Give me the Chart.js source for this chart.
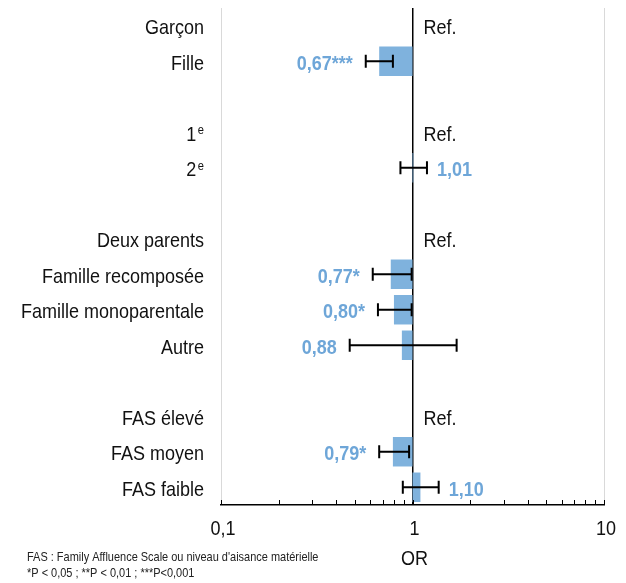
<!DOCTYPE html>
<html>
<head>
<meta charset="utf-8">
<script src="https://cdn.jsdelivr.net/npm/chart.js@4.4.1/dist/chart.umd.min.js"></script>
<style>
  html, body { margin: 0; padding: 0; background: #fff; }
  #wrap { width: 626px; height: 583px; position: relative; }
</style>
</head>
<body>
<div id="wrap"><canvas id="c" width="626" height="583"></canvas></div>
<script>
// Rows of the forest plot (blank rows separate the groups)
const categories   = ['Garçon', 'Fille', '', '1', '2', '', 'Deux parents', 'Famille recomposée', 'Famille monoparentale', 'Autre', '', 'FAS élevé', 'FAS moyen', 'FAS faible'];
const superscripts = ['', '', '', 'e', 'e', '', '', '', '', '', '', '', '', ''];
const isReference  = [true, false, false, true, false, false, true, false, false, false, false, true, false, false];

// Odds ratios with 95% confidence limits
const oddsRatio    = [null, 0.67, null, null, 1.01, null, null, 0.77, 0.80, 0.88, null, null, 0.79, 1.10];
const ciLow        = [null, 0.57, null, null, 0.865, null, null, 0.62, 0.66, 0.47, null, null, 0.67, 0.89];
const ciHigh       = [null, 0.79, null, null, 1.19, null, null, 0.99, 0.99, 1.70, null, null, 0.96, 1.37];
const significance = ['', '***', '', '', '', '', '', '*', '*', '', '', '', '*', ''];

// Log axis ticks
const xTickValues     = [0.1, 0.2, 0.3, 0.4, 0.5, 0.6, 0.7, 0.8, 0.9, 1, 2, 3, 4, 5, 6, 7, 8, 9, 10];
const majorTicks      = [0.1, 1, 10];
const majorTickLabels = ['0,1', '1', '10'];

const refLabel = 'Ref.';
const axisTitle = 'OR';
const footnotes = [
  "FAS : Family Affluence Scale ou niveau d'aisance matérielle",
  '*P < 0,05 ; **P < 0,01 ; ***P<0,001'
];

const FONT = "'Liberation Sans', Arial, sans-serif";
const SQUEEZE = 0.857;          // narrow set type
const BAR_COLOR = '#7fb2dd';
const VALUE_COLOR = '#6ea6d8';
const TEXT_COLOR = '#111111';

const fmt = v => v.toFixed(2).replace('.', ',');

// Bars run from OR = 1 to the estimate
const barData = oddsRatio.map(v => (v == null ? null : [1, v]));

// condensed text helper
function drawText(ctx, text, x, y, align, font, color) {
  ctx.save();
  ctx.font = font;
  ctx.fillStyle = color;
  ctx.textAlign = align;
  ctx.textBaseline = 'alphabetic';
  ctx.translate(x, y);
  ctx.scale(SQUEEZE, 1);
  ctx.fillText(text, 0, 0);
  ctx.restore();
}
function textWidth(ctx, text, font) {
  ctx.save();
  ctx.font = font;
  const w = ctx.measureText(text).width * SQUEEZE;
  ctx.restore();
  return w;
}

const forestPlugin = {
  id: 'forest',
  afterDraw(chart) {
    const ctx = chart.ctx;
    const xs = chart.scales.x;
    const ys = chart.scales.y;
    const area = chart.chartArea;
    const mainFont = '21px ' + FONT;
    const boldFont = 'bold 21px ' + FONT;
    const supFont = '13px ' + FONT;

    ctx.save();

    // inner tick marks on the log axis
    ctx.strokeStyle = '#000';
    ctx.lineWidth = 1;
    xTickValues.forEach(v => {
      const x = Math.round(xs.getPixelForValue(v)) + 0.5;
      ctx.beginPath();
      ctx.moveTo(x, area.bottom);
      ctx.lineTo(x, area.bottom - 5);
      ctx.stroke();
    });

    // tick labels and axis title
    majorTicks.forEach((v, k) => {
      drawText(ctx, majorTickLabels[k], xs.getPixelForValue(v) + 2, area.bottom + 30, 'center', mainFont, TEXT_COLOR);
    });
    drawText(ctx, axisTitle, xs.getPixelForValue(1) + 2, area.bottom + 60, 'center', mainFont, TEXT_COLOR);

    // category labels (right aligned, with superscript suffixes)
    const labelRight = area.left - 17;
    categories.forEach((label, i) => {
      if (!label) return;
      const base = ys.getPixelForValue(i) + 8.5;
      if (superscripts[i]) {
        const sw = textWidth(ctx, superscripts[i], supFont);
        drawText(ctx, superscripts[i], labelRight, base - 6.5, 'right', supFont, TEXT_COLOR);
        drawText(ctx, label, labelRight - sw - 1.5, base, 'right', mainFont, TEXT_COLOR);
      } else {
        drawText(ctx, label, labelRight, base, 'right', mainFont, TEXT_COLOR);
      }
    });

    // reference rows
    const x1 = xs.getPixelForValue(1);
    isReference.forEach((ref, i) => {
      if (!ref) return;
      drawText(ctx, refLabel, x1 + 11, ys.getPixelForValue(i) + 8.5, 'left', mainFont, TEXT_COLOR);
    });

    // confidence intervals
    ctx.strokeStyle = '#000';
    ctx.lineWidth = 2;
    oddsRatio.forEach((v, i) => {
      if (v == null) return;
      const y = ys.getPixelForValue(i);
      const xl = xs.getPixelForValue(ciLow[i]);
      const xh = xs.getPixelForValue(ciHigh[i]);
      ctx.beginPath();
      ctx.moveTo(xl, y); ctx.lineTo(xh, y);
      ctx.moveTo(xl, y - 6.5); ctx.lineTo(xl, y + 6.5);
      ctx.moveTo(xh, y - 6.5); ctx.lineTo(xh, y + 6.5);
      ctx.stroke();
    });

    // value labels
    oddsRatio.forEach((v, i) => {
      if (v == null) return;
      const base = ys.getPixelForValue(i) + 8.5;
      const text = fmt(v) + significance[i];
      if (v < 1) {
        drawText(ctx, text, xs.getPixelForValue(ciLow[i]) - 13, base, 'right', boldFont, VALUE_COLOR);
      } else {
        drawText(ctx, text, xs.getPixelForValue(ciHigh[i]) + 10, base, 'left', boldFont, VALUE_COLOR);
      }
    });

    // footnotes
    footnotes.forEach((t, k) => drawText(ctx, t, 27, 561 + k * 16, 'left', '12.8px ' + FONT, '#222'));

    ctx.restore();
  }
};

new Chart(document.getElementById('c'), {
  type: 'bar',
  data: {
    labels: categories,
    datasets: [{
      data: barData,
      backgroundColor: BAR_COLOR,
      borderWidth: 0,
      categoryPercentage: 1,
      barPercentage: 0.83
    }]
  },
  options: {
    indexAxis: 'y',
    responsive: false,
    animation: false,
    layout: { padding: { top: 8, right: 22, bottom: 0, left: 0 } },
    plugins: { legend: { display: false }, tooltip: { enabled: false } },
    scales: {
      x: {
        type: 'logarithmic',
        min: 0.1,
        max: 10,
        z: 1,
        afterBuildTicks: s => { s.ticks = xTickValues.map(v => ({ value: v, major: majorTicks.includes(v) })); },
        afterFit: s => { s.height = 78; },
        ticks: { display: false, autoSkip: false, maxRotation: 0 },
        grid: {
          drawTicks: false,
          color: c => {
            const v = c.tick ? c.tick.value : null;
            if (v === 1) return '#000';
            if (v === 0.1 || v === 10) return '#d9d9d9';
            return 'rgba(0,0,0,0)';
          },
          lineWidth: c => (c.tick && c.tick.value === 1 ? 1.5 : 1)
        },
        border: { display: true, color: '#000', width: 1.5 }
      },
      y: {
        type: 'category',
        afterFit: s => { s.width = 221; },
        ticks: { display: false },
        grid: { display: false },
        border: { display: false }
      }
    }
  },
  plugins: [forestPlugin]
});
</script>
</body>
</html>
